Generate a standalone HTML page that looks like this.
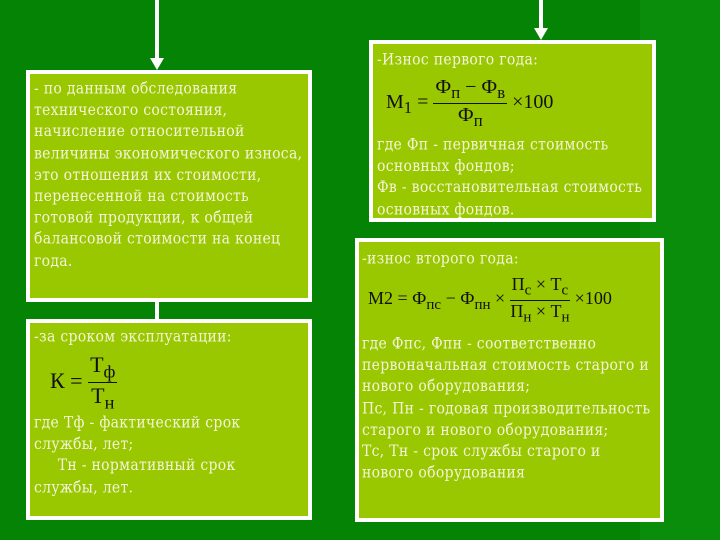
<!DOCTYPE html>
<html><head><meta charset="utf-8"><style>
body{margin:0;width:720px;height:540px;overflow:hidden;background:#048304;position:relative;font-family:"Liberation Serif",serif}
.b{position:absolute;background:#99c700;border:4px solid #fff;box-sizing:border-box}
.t{position:absolute;color:#f4f4d8;font-family:"DejaVu Serif",serif;font-size:14px;letter-spacing:0.3px;line-height:19.2px;white-space:nowrap;transform:scaleY(1.12);transform-origin:0 0}
.l{position:absolute;background:#fff}
.m{position:absolute;color:#111;font-family:"Liberation Serif",serif;font-size:20px;white-space:nowrap}
.fr{display:inline-block;vertical-align:middle;text-align:center}
.fr span{display:block}
.fr .n{border-bottom:1px solid #111;padding:0 2px}
</style></head><body>
<div style="position:absolute;left:640px;top:0;width:80px;height:540px;background:#0a8d0a"></div>
<div class="l" style="left:155px;top:0;width:4px;height:60px"></div>
<div style="position:absolute;left:150px;top:58px;border-left:7px solid transparent;border-right:7px solid transparent;border-top:12px solid #fff"></div>
<div class="l" style="left:539px;top:0;width:4px;height:30px"></div>
<div style="position:absolute;left:534px;top:28px;border-left:7px solid transparent;border-right:7px solid transparent;border-top:12px solid #fff"></div>
<div class="l" style="left:155px;top:300px;width:4px;height:20px"></div>

<div class="b" style="left:26px;top:70px;width:286px;height:232px"></div>
<div class="t" style="left:34px;top:79px">- по данным обследования<br>технического состояния,<br>начисление относительной<br>величины экономического износа,<br>это отношения их стоимости,<br>перенесенной на стоимость<br>готовой продукции, к общей<br>балансовой стоимости на конец<br>года.</div>

<div class="b" style="left:26px;top:319px;width:286px;height:201px"></div>
<div class="t" style="left:34px;top:327px">-за сроком эксплуатации:</div>
<div class="t" style="left:34px;top:413px">где Тф - фактический срок<br>службы, лет;<br>&nbsp;&nbsp;&nbsp;&nbsp;&nbsp;Тн - нормативный срок<br>службы, лет.</div>
<div class="m" style="left:50px;top:352px;font-size:22px">К = <span class="fr"><span class="n">Т<sub>ф</sub></span><span>Т<sub>н</sub></span></span></div>

<div class="b" style="left:369px;top:40px;width:287px;height:182px"></div>
<div class="t" style="left:377px;top:50px">-Износ первого года:</div>
<div class="t" style="left:377px;top:135px">где Фп - первичная стоимость<br>основных фондов;<br>Фв - восстановительная стоимость<br>основных фондов.</div>
<div class="m" style="left:386px;top:76px">M<sub>1</sub> = <span class="fr"><span class="n">Ф<sub>п</sub> − Ф<sub>в</sub></span><span>Ф<sub>п</sub></span></span> ×100</div>

<div class="b" style="left:355px;top:238px;width:309px;height:284px"></div>
<div class="t" style="left:362px;top:249px">-износ второго года:</div>
<div class="t" style="left:362px;top:334px">где Фпс, Фпн - соответственно<br>первоначальная стоимость старого и<br>нового оборудования;<br>Пс, Пн - годовая производительность<br>старого и нового оборудования;<br>Тс, Тн - срок службы старого и<br>нового оборудования</div>
<div class="m" style="left:368px;top:274px;font-size:18px">M2 = Ф<sub>пс</sub> − Ф<sub>пн</sub> × <span class="fr"><span class="n">П<sub>с</sub> × Т<sub>с</sub></span><span>П<sub>н</sub> × Т<sub>н</sub></span></span> ×100</div>
</body></html>
